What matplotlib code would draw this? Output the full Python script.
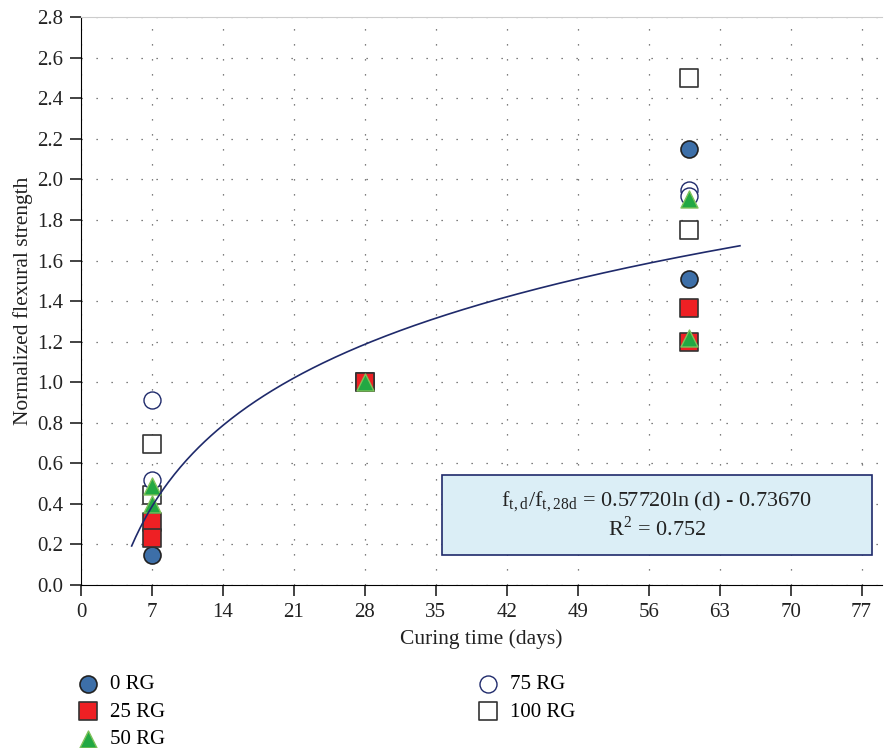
import numpy as np
import matplotlib.pyplot as plt
from matplotlib.patches import Rectangle

plt.rcParams['font.family'] = ['Liberation Serif', 'DejaVu Serif']
plt.rcParams['mathtext.fontset'] = 'stix'

# data
days_0 = [7, 28, 60, 60]
rg0 = [0.15, 1.0, 2.15, 1.51]
days_25 = [7, 7, 28, 60, 60]
rg25 = [0.31, 0.23, 1.0, 1.365, 1.20]
days_50 = [7, 7, 28, 60, 60]
rg50 = [0.49, 0.40, 1.0, 1.905, 1.22]
days_75 = [7, 7, 28, 60, 60]
rg75 = [0.91, 0.52, 1.0, 1.95, 1.92]
days_100 = [7, 7, 28, 60, 60]
rg100 = [0.695, 0.443, 1.0, 2.5, 1.75]

fit_a = 0.5772
fit_b = -0.7367
fit_start, fit_end = 5, 65

fig = plt.figure(figsize=(8.84, 7.48), dpi=100)
ax = fig.add_axes([0.0916, 0.218, 0.906, 0.759])

ax.scatter(days_100, rg100, marker='s', s=150, facecolor='white', edgecolor='#333333', linewidth=1.2, zorder=3, label='100 RG')
ax.scatter(days_75, rg75, marker='o', s=150, facecolor='white', edgecolor='#1f2a6b', linewidth=1.0, zorder=3, label='75 RG')
ax.scatter(days_0, rg0, marker='o', s=150, facecolor='#3d6fa8', edgecolor='#222222', linewidth=1.2, zorder=4, label='0 RG')
ax.scatter(days_25, rg25, marker='s', s=150, facecolor='#ee2024', edgecolor='#333333', linewidth=1.2, zorder=4, label='25 RG')
ax.scatter(days_50, rg50, marker='^', s=150, facecolor='#22a843', edgecolor='#7fc25a', linewidth=1.0, zorder=5, label='50 RG')

xf = np.linspace(fit_start, fit_end, 300)
ax.plot(xf, fit_a * np.log(xf) + fit_b, color='#1f2a6b', linewidth=1.2, zorder=6)

ax.add_patch(Rectangle((35.6, 0.15), 42.4, 0.39, facecolor='#dbeef6', edgecolor='#1f2a6b', linewidth=1.2, zorder=7))
ax.text(56.8, 0.345, r'f$_{\mathregular{t,d}}$/f$_{\mathregular{t,28d}}$ = 0.57720ln (d) - 0.73670' + '\n' + r'R$^{\mathregular{2}}$ = 0.752',
        ha='center', va='center', fontsize=16, color='#222222', zorder=8, linespacing=1.15)

ax.set_xlim(0, 79)
ax.set_ylim(0, 2.8)
ax.set_xticks(np.arange(0, 78, 7))
ax.set_yticks(np.arange(0, 2.81, 0.2))
ax.set_yticklabels(['%.1f' % v for v in np.arange(0, 2.81, 0.2)])
ax.grid(True, color='#555555', linestyle=(0, (1, 11)), linewidth=0.9)
ax.set_axisbelow(True)
ax.spines['right'].set_visible(False)
ax.spines['top'].set_color('#cccccc')
ax.tick_params(direction='out', length=8, width=1.2, labelsize=15, colors='#222222', pad=5)
ax.set_xlabel('Curing time (days)', fontsize=15.5, color='#222222', labelpad=5)
ax.set_ylabel('Normalized flexural strength', fontsize=15.5, color='#222222', labelpad=3)

h, l = ax.get_legend_handles_labels()
order = [2, 3, 4, 1, 0]
fig.legend([h[i] for i in order], [l[i] for i in order], ncol=2, loc='upper left',
           bbox_to_anchor=(0.088, 0.098), frameon=False, fontsize=15, columnspacing=15.0,
           handlelength=1.0, handletextpad=0.55, labelspacing=0.38, borderaxespad=0, borderpad=0)

fig.savefig('out.png', dpi=100)
